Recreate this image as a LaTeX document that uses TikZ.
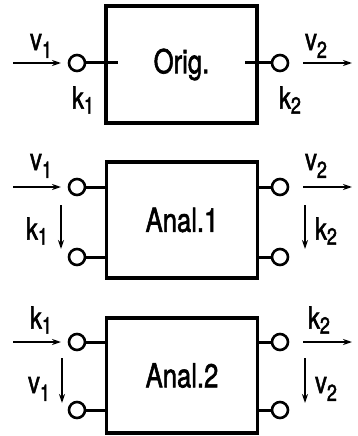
\documentclass[tikz,border=0pt]{standalone}
\usepackage{fontspec}
\setmainfont[FakeBold=2]{TeX Gyre Heros}
\usetikzlibrary{arrows.meta}
\newcommand\tall[1]{\scalebox{0.95}[1.22]{#1}}
\newcommand\lv[2]{\tall{#1\raisebox{-6.5pt}{\fontsize{19}{19}\selectfont #2}}}
\newcommand\lk[2]{\tall{#1\raisebox{-4pt}{\fontsize{19}{19}\selectfont #2}}}
\begin{document}
\begin{tikzpicture}[x=1pt,y=-1pt,
 blk/.style={draw,line width=3.5pt,minimum width=151pt,inner sep=0,font=\fontsize{27}{27}\selectfont},
 term/.style={draw,circle,line width=2.6pt,minimum size=16pt,inner sep=0},
 wire/.style={line width=3pt},
 arr/.style={line width=1.8pt,-{Stealth[length=9pt,width=6pt]}},
 lbl/.style={font=\fontsize{25}{25}\selectfont,inner sep=0}]
\useasboundingbox (0,0) rectangle (358,436);
% ---------- top: Orig.
\node[blk,minimum height=117pt] (b1) at (181.5,64.5) {\tall{Orig.}};
\node[term] (c1) at (77,63) {};
\node[term] (c2) at (280,63) {};
\draw[wire] (c1.east) -- ([xshift=14pt]b1.west |- c1);
\draw[wire] (c2.west) -- ([xshift=-14pt]b1.east |- c2);
\coordinate (a1s) at (13,63); \coordinate (a1e) at (61,63);
\coordinate (a2s) at (303,63); \coordinate (a2e) at (352,63);
\draw[arr] (a1s) -- (a1e);
\draw[arr] (a2s) -- (a2e);
\node[lbl] (t1) at (41,46) {\lv{v}{1}};
\node[lbl] (t2) at (83,100) {\lk{k}{1}};
\node[lbl] (t3) at (316,46) {\lv{v}{2}};
\node[lbl] (t4) at (290,100) {\lk{k}{2}};
% ---------- middle: Anal.1
\node[blk,minimum height=116pt] (b2) at (182,220) {\tall{Anal.1}};
\node[term] (d1) at (77,187) {};
\node[term] (d2) at (77,257) {};
\node[term] (d3) at (280,187) {};
\node[term] (d4) at (280,257) {};
\draw[wire] (d1.east) -- (b2.west |- d1);
\draw[wire] (d2.east) -- (b2.west |- d2);
\draw[wire] (d3.west) -- (b2.east |- d3);
\draw[wire] (d4.west) -- (b2.east |- d4);
\coordinate (m1s) at (13,187); \coordinate (m1e) at (61,187);
\coordinate (m2s) at (303,187); \coordinate (m2e) at (352,187);
\coordinate (m3s) at (61,205); \coordinate (m3e) at (61,249);
\coordinate (m4s) at (305,205); \coordinate (m4e) at (305,249);
\draw[arr] (m1s) -- (m1e);
\draw[arr] (m2s) -- (m2e);
\draw[arr] (m3s) -- (m3e);
\draw[arr] (m4s) -- (m4e);
\node[lbl] (u1) at (41,166) {\lv{v}{1}};
\node[lbl] (u2) at (37,231) {\lk{k}{1}};
\node[lbl] (u3) at (316,166) {\lv{v}{2}};
\node[lbl] (u4) at (326,231) {\lk{k}{2}};
% ---------- bottom: Anal.2
\node[blk,minimum height=115pt] (b3) at (182,375.5) {\tall{Anal.2}};
\node[term] (e1) at (77,342) {};
\node[term] (e2) at (77,410) {};
\node[term] (e3) at (280,342) {};
\node[term] (e4) at (280,410) {};
\draw[wire] (e1.east) -- (b3.west |- e1);
\draw[wire] (e2.east) -- (b3.west |- e2);
\draw[wire] (e3.west) -- (b3.east |- e3);
\draw[wire] (e4.west) -- (b3.east |- e4);
\coordinate (n1s) at (13,342); \coordinate (n1e) at (61,342);
\coordinate (n2s) at (303,342); \coordinate (n2e) at (352,342);
\coordinate (n3s) at (62,358); \coordinate (n3e) at (62,403);
\coordinate (n4s) at (305,358); \coordinate (n4e) at (305,403);
\draw[arr] (n1s) -- (n1e);
\draw[arr] (n2s) -- (n2e);
\draw[arr] (n3s) -- (n3e);
\draw[arr] (n4s) -- (n4e);
\node[lbl] (w1) at (41,320) {\lk{k}{1}};
\node[lbl] (w2) at (39,389) {\lv{v}{1}};
\node[lbl] (w3) at (319,320) {\lk{k}{2}};
\node[lbl] (w4) at (326,389) {\lv{v}{2}};
\end{tikzpicture}
\end{document}
